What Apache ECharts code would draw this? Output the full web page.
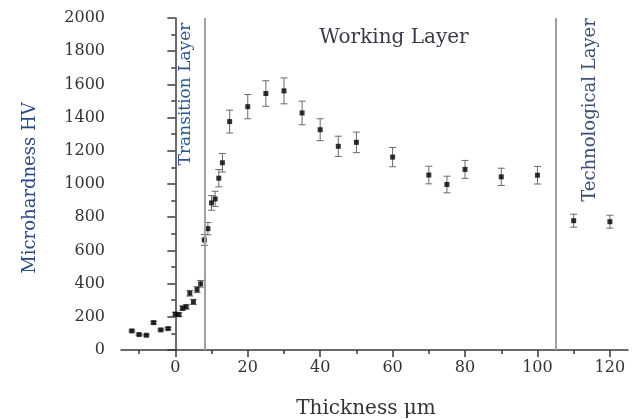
<!DOCTYPE html>
<html>
<head>
<meta charset="utf-8">
<script src="https://cdn.jsdelivr.net/npm/echarts@6/dist/echarts.min.js"></script>
<style>
  html, body { margin: 0; padding: 0; background: #fff; }
  #main { width: 636px; height: 419px; }
</style>
</head>
<body>
<div id="main"></div>
<script>
// depth (um) and microhardness
var thickness = [-12, -10, -8, -6, -4, -2, 0, 1, 2, 3, 4, 5, 6, 7, 8, 9, 10, 11, 12, 13,
                 15, 20, 25, 30, 35, 40, 45, 50, 60, 70, 75, 80, 90, 100, 110, 120];
var hardness = [115, 93, 89, 165, 121, 129, 216, 213, 252, 260, 342, 290, 364, 399, 663, 731, 886, 910, 1035, 1128,
                1376, 1466, 1545, 1561, 1428, 1327, 1227, 1251, 1162, 1054, 997, 1088, 1043, 1053, 779, 773];
// half length of the error bars
var hardnessErr = [6, 5, 5, 8, 6, 6, 11, 11, 13, 13, 17, 15, 18, 20, 33, 37, 44, 46, 52, 56,
                   69, 73, 77, 78, 71, 66, 61, 62, 58, 53, 50, 54, 52, 53, 39, 39];

var xMajorTicks = [0, 20, 40, 60, 80, 100, 120];
var xMinorTicks = [-10, 10, 30, 50, 70, 90, 110];
var layerBounds = [8, 105];   // transition / working / technological layer limits

var serif = 'DejaVu Serif';

var points = thickness.map(function (x, i) { return [x, hardness[i]]; });
var bars = thickness.map(function (x, i) {
    return [x, hardness[i] - hardnessErr[i], hardness[i] + hardnessErr[i]];
});

var chart = echarts.init(document.getElementById('main'));
chart.setOption({
    animation: false,
    grid: { left: 121, right: 8, top: 18, bottom: 69 },
    xAxis: [{
        type: 'value',
        min: -15, max: 125,
        position: 'bottom',
        splitLine: { show: false },
        axisLine: { lineStyle: { color: '#3a3a3a', width: 1.5 } },
        axisTick: { customValues: xMajorTicks, length: 7, lineStyle: { color: '#3a3a3a', width: 1.5 } },
        axisLabel: { customValues: xMajorTicks, margin: 10, color: '#333', fontFamily: serif, fontSize: 16 }
    }, {
        type: 'value',
        min: -15, max: 125,
        position: 'bottom',
        splitLine: { show: false },
        axisLine: { show: false },
        axisTick: { customValues: xMinorTicks, length: 4, lineStyle: { color: '#3a3a3a', width: 1.5 } },
        axisLabel: { show: false }
    }],
    yAxis: {
        type: 'value',
        min: 0, max: 2000, interval: 200,
        splitLine: { show: false },
        axisLine: { show: true, lineStyle: { color: '#3a3a3a', width: 1.5 } },
        axisTick: { length: 8, lineStyle: { color: '#3a3a3a', width: 1.5 } },
        minorTick: { show: true, splitNumber: 2, length: 4, lineStyle: { color: '#3a3a3a', width: 1.5 } },
        axisLabel: {
            margin: 16, color: '#333', fontFamily: serif, fontSize: 16,
            formatter: function (v) { return String(v); }
        }
    },
    series: [{
        type: 'custom',
        data: bars,
        z: 2,
        renderItem: function (params, api) {
            var top = api.coord([api.value(0), api.value(2)]);
            var bot = api.coord([api.value(0), api.value(1)]);
            var st = { stroke: '#6a6a6a', lineWidth: 1 };
            return {
                type: 'group',
                children: [
                    { type: 'line', shape: { x1: top[0], y1: top[1], x2: bot[0], y2: bot[1] }, style: st },
                    { type: 'line', shape: { x1: top[0] - 3.5, y1: top[1], x2: top[0] + 3.5, y2: top[1] }, style: st },
                    { type: 'line', shape: { x1: bot[0] - 3.5, y1: bot[1], x2: bot[0] + 3.5, y2: bot[1] }, style: st }
                ]
            };
        }
    }, {
        type: 'scatter',
        data: points,
        symbol: 'rect',
        symbolSize: 5,
        z: 3,
        itemStyle: { color: '#000' },
        markLine: {
            silent: true,
            symbol: 'none',
            label: { show: false },
            lineStyle: { color: '#a0a0a0', width: 2, type: 'solid' },
            data: layerBounds.map(function (v) { return { xAxis: v }; })
        }
    }],
    graphic: [
        { type: 'text', x: 30, y: 188, rotation: Math.PI / 2,
          style: { text: 'Microhardness HV', font: '18px "' + serif + '"', fill: '#2a4a82', align: 'center', verticalAlign: 'middle' } },
        { type: 'text', x: 366, y: 409,
          style: { text: 'Thickness \u03bcm', font: '20px "' + serif + '"', fill: '#333', align: 'center', verticalAlign: 'middle' } },
        { type: 'text', x: 186, y: 94, rotation: Math.PI / 2,
          style: { text: 'Transition Layer', font: '17px "' + serif + '"', fill: '#2a5592', align: 'center', verticalAlign: 'middle' } },
        { type: 'text', x: 394, y: 38,
          style: { text: 'Working Layer', font: '20px "' + serif + '"', fill: '#3a3a48', align: 'center', verticalAlign: 'middle' } },
        { type: 'text', x: 590, y: 110, rotation: Math.PI / 2,
          style: { text: 'Technological Layer', font: '18px "' + serif + '"', fill: '#3b4f78', align: 'center', verticalAlign: 'middle' } }
    ]
});
</script>
</body>
</html>
